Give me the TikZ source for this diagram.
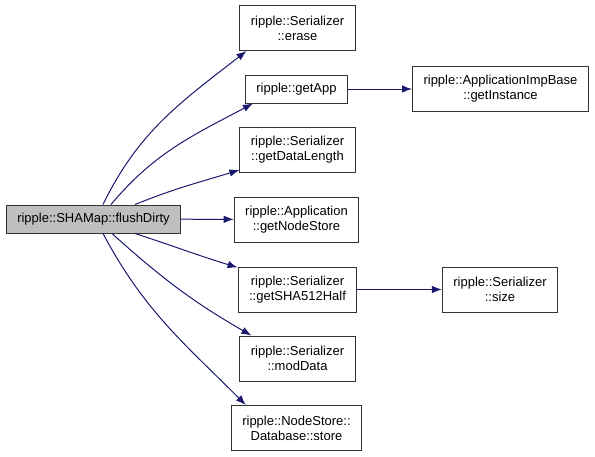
\documentclass[tikz,border=0pt]{standalone}
\usepackage{fontspec}
\setmainfont{Liberation Sans}
\usetikzlibrary{arrows.meta}
\definecolor{edgeblue}{RGB}{25,25,112}
\tikzset{
  fn/.style={draw=black!80, fill=white, line width=1pt, align=center,
    inner xsep=11pt, inner ysep=2pt, minimum height=45pt,
    font=\fontsize{13}{15}\selectfont},
  fnone/.style={fn, minimum height=28pt},
  call/.style={->, draw=edgeblue, fill=none, line width=1pt},
}
\begin{document}
\begin{tikzpicture}[>={Latex[length=10pt,width=7.5pt]}, x=1pt, y=-1pt]
    \useasboundingbox (0,0) rectangle (595,456);
    % 1. Hàm gốc
    \node[fnone, fill=black!25] (root) at (93.5,219) {ripple::SHAMap::flushDirty};

    % 2. Các hàm được gọi
    \node[fn] (erase) at (297.5,28) {ripple::Serializer\\::erase};
    \node[fnone] (getapp) at (296.5,89) {ripple::getApp};
    \node[fn] (instance) at (500.5,89) {ripple::ApplicationImpBase\\::getInstance};
    \node[fn] (datalen) at (297.5,150) {ripple::Serializer\\::getDataLength};
    \node[fn] (nodestore) at (296.5,219.5) {ripple::Application\\::getNodeStore};
    \node[fn] (sha) at (297.5,289.5) {ripple::Serializer\\::getSHA512Half};
    \node[fn] (size) at (500,289.5) {ripple::Serializer\\::size};
    \node[fn] (moddata) at (297.5,358.5) {ripple::Serializer\\::modData};
    \node[fn] (store) at (296.5,428) {ripple::NodeStore::\\Database::store};

    % 3. Các cạnh gọi hàm
    \draw[call] ([xshift=9.5pt]root.north) to[out=64,in=218] ([xshift=7pt]erase.south west);
    \draw[call] ([xshift=17.5pt]root.north) to[out=50,in=208] ([xshift=8pt]getapp.south west);
    \draw[call] ([xshift=41.5pt]root.north) to[out=22,in=197] ([yshift=3pt]datalen.south west);
    \draw[call] (root) -- (nodestore);
    \draw[call] ([xshift=41.5pt]root.south) to[out=-18,in=163] ([yshift=-1pt]sha.north west);
    \draw[call] ([xshift=18.5pt]root.south) to[out=-42,in=150] ([xshift=12pt]moddata.north west);
    \draw[call] ([xshift=9.5pt]root.south) to[out=-62,in=135] ([xshift=15pt]store.north west);
    \draw[call] (getapp) -- (instance);
    \draw[call] (sha) -- (size);
\end{tikzpicture}
\end{document}
